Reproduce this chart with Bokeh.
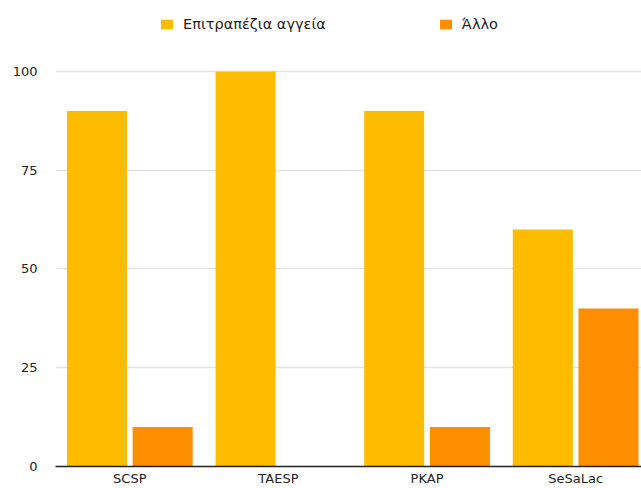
from bokeh.plotting import figure
from bokeh.models import Range1d, FixedTicker, Legend, LegendItem, ColumnDataSource
from bokeh.transform import dodge
from bokeh.embed import file_html
from bokeh.resources import INLINE

categories = ["SCSP", "TAESP", "PKAP", "SeSaLac"]
series_names = ["Επιτραπέζια αγγεία", "Άλλο"]
tableware = [90, 100, 90, 60]
other = [10, 0, 10, 40]
y_ticks = [0, 25, 50, 75, 100]

colors = ["#FDBC00", "#FD8E00"]
FONT = "DejaVu Sans"

x_pos = list(range(len(categories)))
src = ColumnDataSource(dict(x=x_pos, cat=categories, a=tableware, b=other))

# frame extends to the top so the legend (drawn inside the frame) is not clipped
p = figure(width=641, height=488, output_backend="svg", toolbar_location=None,
           x_range=Range1d(-0.5, 3.443), y_range=Range1d(0, 117.97),
           min_border_left=55, min_border_right=0, min_border_top=0, min_border_bottom=22)
p.title.visible = False
p.outline_line_color = None
p.background_fill_color = "white"
p.border_fill_color = "white"

r1 = p.vbar(x=dodge("x", -0.221, range=p.x_range), top="a", width=0.404, source=src,
            fill_color=colors[0], line_color=None)
r2 = p.vbar(x=dodge("x", 0.221, range=p.x_range), top="b", width=0.404, source=src,
            fill_color=colors[1], line_color=None)

# axes
p.xaxis.ticker = FixedTicker(ticks=x_pos)
p.xaxis.major_label_overrides = {i: c for i, c in zip(x_pos, categories)}
p.xaxis.major_tick_line_color = None
p.xaxis.minor_tick_line_color = None
p.xaxis.major_tick_out = 0
p.xaxis.major_tick_in = 0
p.xaxis.axis_line_color = "#222222"
p.xaxis.axis_line_width = 1.5
p.xaxis.major_label_standoff = 4
p.xaxis.major_label_text_font = FONT
p.xaxis.major_label_text_font_size = "13px"
p.xaxis.major_label_text_color = "#222222"

p.yaxis.ticker = FixedTicker(ticks=y_ticks)
p.yaxis.axis_line_color = None
p.yaxis.major_tick_line_color = None
p.yaxis.minor_tick_line_color = None
p.yaxis.major_tick_out = 0
p.yaxis.major_tick_in = 0
p.yaxis.major_label_standoff = 18
p.yaxis.major_label_text_font = FONT
p.yaxis.major_label_text_font_size = "13px"
p.yaxis.major_label_text_color = "#222222"

p.xgrid.grid_line_color = None
p.ygrid.ticker = FixedTicker(ticks=y_ticks[1:])
p.ygrid.grid_line_color = "#E2E2E2"
p.ygrid.grid_line_width = 1.5

legend = Legend(items=[LegendItem(label=series_names[0], renderers=[r1]),
                       LegendItem(label=series_names[1], renderers=[r2])],
                orientation="horizontal", location=(104, 434),
                border_line_color=None, background_fill_alpha=0,
                padding=0, margin=0, spacing=112, label_standoff=9,
                glyph_width=15, glyph_height=12,
                label_text_font=FONT, label_text_font_size="14.5px",
                label_text_color="#222222")
p.add_layout(legend, "center")

open("out.html", "w").write(file_html(p, INLINE))
